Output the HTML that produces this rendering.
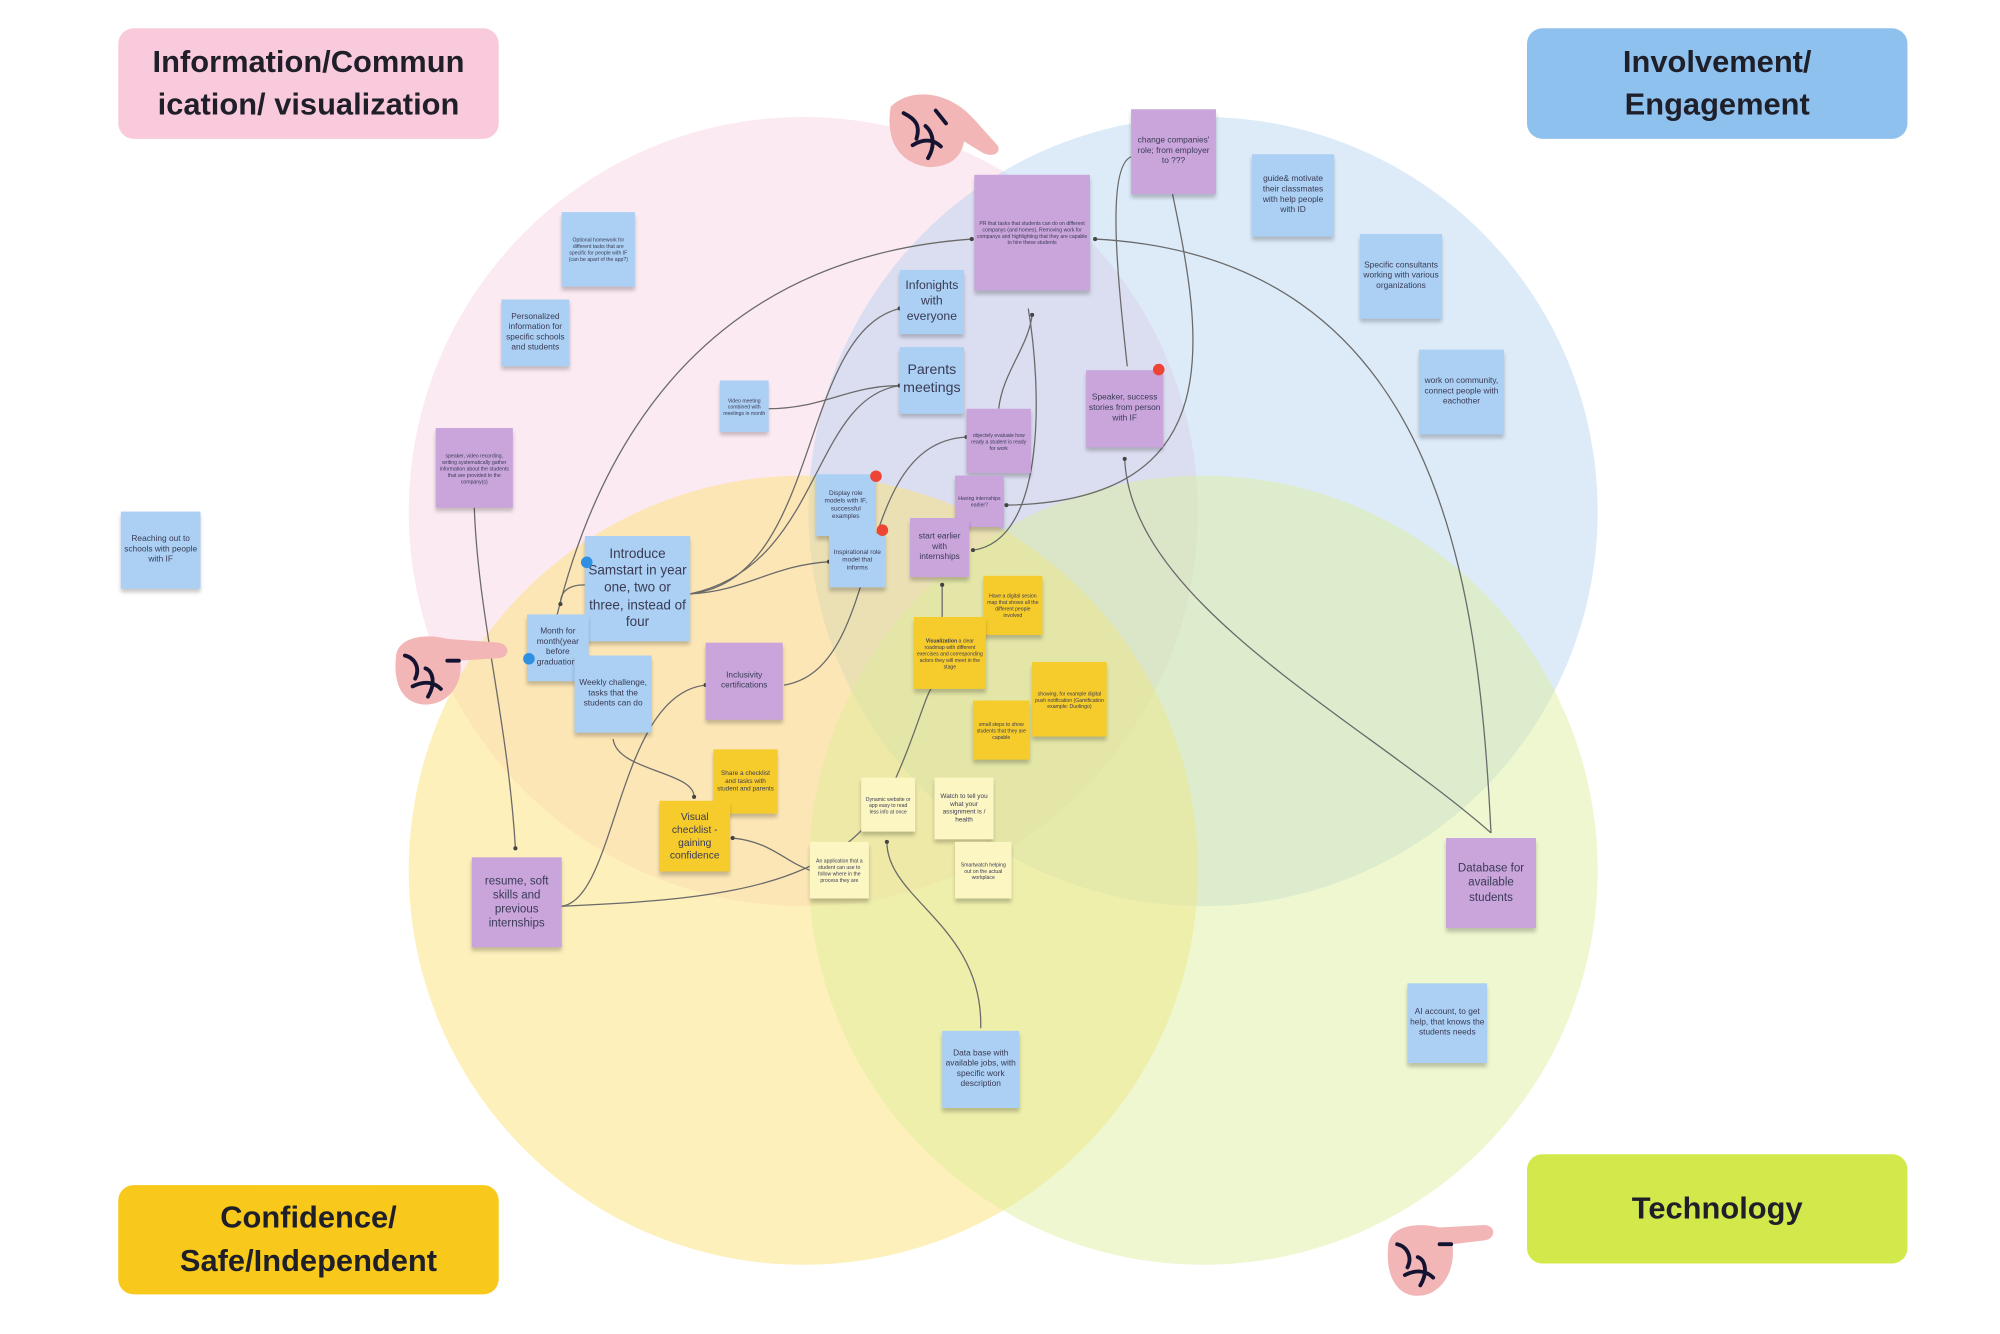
<!DOCTYPE html>
<html><head><meta charset="utf-8">
<style>
html,body{margin:0;padding:0;background:#fff;}
body{width:2000px;height:1334px;overflow:hidden;position:relative;font-family:"Liberation Sans",sans-serif;}
#s{position:absolute;left:0;top:0;width:1556px;height:1038px;transform:scale(1.28535);transform-origin:0 0;}
.n{position:absolute;display:flex;align-items:center;justify-content:center;text-align:center;color:#3a3a55;box-shadow:0 3px 3px rgba(0,0,0,0.22);box-sizing:border-box;padding:2px;line-height:1.25;overflow:hidden;}
.b{background:#abd0f3;}
.p{background:#c9a5dc;}
.y{background:#f6cc2c;}
.l{background:#fbf6c2;}
.t{font-size:4px;}
.m{font-size:6.5px;}
.g{font-size:9.5px;}
.lab{position:absolute;border-radius:12px;display:flex;align-items:center;justify-content:center;text-align:center;font-weight:bold;font-size:24px;color:#1f1f2a;line-height:1.38;}
.dot{position:absolute;width:9px;height:9px;border-radius:50%;}
</style></head><body>
<div id="s">
<svg width="1556" height="1038" style="position:absolute;left:0;top:0">
<circle cx="625" cy="398" r="307" fill="rgb(246,196,218)" fill-opacity="0.35"/>
<circle cx="936" cy="398" r="307" fill="rgb(170,205,240)" fill-opacity="0.4"/>
<circle cx="625" cy="677" r="307" fill="rgb(252,225,120)" fill-opacity="0.5"/>
<circle cx="936" cy="677" r="307" fill="rgb(220,238,150)" fill-opacity="0.45"/>
<g fill="none" stroke="#6a6a6a" stroke-width="1">
<path d="M369 395 C372 480 395 560 401 660"/>
<path d="M433 480 C470 330 560 200 756 186"/>
<path d="M437 705 C480 700 480 540 549 533"/>
<path d="M437 705 C560 700 650 690 690 620 C710 580 720 540 725 535"/>
<path d="M537 462 C580 460 600 440 645 437"/>
<path d="M537 462 C640 450 620 260 700 240"/>
<path d="M537 462 C640 440 630 310 700 300"/>
<path d="M598 318 C640 318 660 300 700 300"/>
<path d="M455 455 C440 455 436 462 436 470"/>
<path d="M477 575 C480 600 540 600 540 620"/>
<path d="M610 533 C690 520 660 345 752 340"/>
<path d="M777 318 C780 290 800 270 803 245"/>
<path d="M800 240 C810 300 815 420 757 428"/>
<path d="M733 480 L733 455"/>
<path d="M877 285 C870 220 860 130 880 122"/>
<path d="M912 150 C935 260 960 390 783 393"/>
<path d="M1160 648 C1150 450 1120 200 852 186"/>
<path d="M1160 648 C1060 560 880 470 875 357"/>
<path d="M763 800 C765 720 690 700 690 655"/>
<path d="M630 677 C610 670 600 655 570 652"/>
<path d="M424 512 C430 520 440 520 447 521"/>
</g>
<g fill="#444">
<circle cx="401" cy="660" r="1.6"/><circle cx="756" cy="186" r="1.6"/><circle cx="549" cy="533" r="1.6"/>
<circle cx="645" cy="437" r="1.6"/><circle cx="700" cy="240" r="1.6"/><circle cx="700" cy="300" r="1.6"/>
<circle cx="436" cy="470" r="1.6"/><circle cx="540" cy="620" r="1.6"/><circle cx="752" cy="340" r="1.6"/>
<circle cx="803" cy="245" r="1.6"/><circle cx="757" cy="428" r="1.6"/><circle cx="733" cy="455" r="1.6"/>
<circle cx="783" cy="393" r="1.6"/><circle cx="852" cy="186" r="1.6"/><circle cx="875" cy="357" r="1.6"/>
<circle cx="690" cy="655" r="1.6"/><circle cx="570" cy="652" r="1.6"/>
</g>
<g transform="translate(688,68)">
<path d="M5 15 C20 0 50 2 70 25 L88 45 C92 52 82 55 75 50 L62 42 C60 55 50 62 35 62 C15 60 0 45 5 15Z" fill="#f3b6b6"/>
<path d="M15 20 C25 25 28 30 25 40 M22 45 C30 40 38 40 44 46 M32 30 C38 35 40 45 34 55 M40 18 L48 28" stroke="#141432" stroke-width="3" fill="none" stroke-linecap="round"/>
</g>
<g transform="translate(303,492)">
<path d="M5 20 C5 5 25 0 45 5 L85 8 C95 10 93 20 85 20 L55 22 C58 40 45 58 25 56 C10 54 3 40 5 20Z" fill="#f3b6b6"/>
<path d="M12 18 C20 20 24 28 20 36 M18 42 C26 38 34 38 40 44 M28 28 C34 30 36 40 30 50 M45 22 L54 22" stroke="#141432" stroke-width="3" fill="none" stroke-linecap="round"/>
</g>
<g transform="translate(1075,950)">
<path d="M5 20 C5 5 25 0 45 5 L80 3 C90 4 88 14 80 15 L55 18 C58 40 45 60 25 58 C10 56 3 40 5 20Z" fill="#f3b6b6"/>
<path d="M12 18 C20 20 24 28 20 36 M18 42 C26 38 34 38 40 44 M28 28 C34 30 36 40 30 50 M45 18 L54 18" stroke="#141432" stroke-width="3" fill="none" stroke-linecap="round"/>
</g>
</svg>

<div class="lab" style="left:92px;top:22px;width:296px;height:86px;background:#f9cadb">Information/Commun<br>ication/ visualization</div>
<div class="lab" style="left:1188px;top:22px;width:296px;height:86px;background:#8fc1ef">Involvement/<br>Engagement</div>
<div class="lab" style="left:92px;top:922px;width:296px;height:85px;background:#f8c91a">Confidence/<br>Safe/Independent</div>
<div class="lab" style="left:1188px;top:898px;width:296px;height:85px;background:#d3e84b">Technology</div>

<div class="n b t" style="left:437px;top:165px;width:57px;height:58px">Optional homework for different tasks that are specific for people with IF (can be apart of the app?)</div>
<div class="n b m" style="left:390px;top:233px;width:53px;height:52px">Personalized information for specific schools and students</div>
<div class="n p t" style="left:339px;top:333px;width:60px;height:62px">speaker, video recording, writing systematically gather information about the students that are provided to the company(s)</div>
<div class="n b m" style="left:94px;top:398px;width:62px;height:60px">Reaching out to schools with people with IF</div>
<div class="n b t" style="left:560px;top:296px;width:38px;height:40px">Video meeting combined with meetings in month</div>
<div class="n b g" style="left:700px;top:210px;width:50px;height:50px">Infonights with everyone</div>
<div class="n b g" style="left:700px;top:270px;width:50px;height:52px;font-size:11px">Parents meetings</div>
<div class="n p t" style="left:758px;top:136px;width:90px;height:90px">PR that tasks that students can do on different companys (and homes), Removing work for companys and highlighting that they are capable to hire these students</div>
<div class="n p m" style="left:880px;top:85px;width:66px;height:66px">change companies' role; from employer to ???</div>
<div class="n b m" style="left:974px;top:120px;width:64px;height:64px">guide&amp; motivate their classmates with help people with ID</div>
<div class="n b m" style="left:1058px;top:182px;width:64px;height:66px">Specific consultants working with various organizations</div>
<div class="n b m" style="left:1104px;top:272px;width:66px;height:66px">work on community, connect people with eachother</div>
<div class="n p m" style="left:845px;top:288px;width:60px;height:60px">Speaker, success stories from person with IF</div>
<div class="n p t" style="left:752px;top:318px;width:50px;height:50px">objectely evaluate how ready a student is ready for work</div>
<div class="n p t" style="left:743px;top:370px;width:38px;height:40px">Having internships earlier?</div>
<div class="n p m" style="left:708px;top:403px;width:46px;height:46px">start earlier with internships</div>
<div class="n b t" style="left:635px;top:369px;width:46px;height:48px;font-size:5px">Display role models with IF, successful examples</div>
<div class="n b t" style="left:645px;top:415px;width:44px;height:42px;font-size:5px">Inspirational role model that informs</div>
<div class="n b" style="left:455px;top:417px;width:82px;height:82px;font-size:10.5px">Introduce Samstart in year one, two or three, instead of four</div>
<div class="n b m" style="left:410px;top:478px;width:48px;height:52px">Month for month(year before graduation)</div>
<div class="n b m" style="left:447px;top:510px;width:60px;height:60px">Weekly challenge, tasks that the students can do</div>
<div class="n p m" style="left:549px;top:500px;width:60px;height:60px">Inclusivity certifications</div>
<div class="n y t" style="left:555px;top:583px;width:50px;height:50px;font-size:5px">Share a checklist and tasks with student and parents</div>
<div class="n y" style="left:513px;top:623px;width:55px;height:55px;font-size:8px">Visual checklist - gaining confidence</div>
<div class="n y t" style="left:765px;top:448px;width:46px;height:46px">Have a digital sesion map that shows all the different people involved</div>
<div class="n y t" style="left:711px;top:480px;width:56px;height:56px"><span><b>Visualization</b> a clear roadmap with different exercises and corresponding actors they will meet in the stage</span></div>
<div class="n y t" style="left:803px;top:515px;width:58px;height:58px">showing, for example digital push notification (Gamification example: Duolingo)</div>
<div class="n y t" style="left:757px;top:545px;width:44px;height:46px">small steps to show students that they are capable</div>
<div class="n l t" style="left:670px;top:605px;width:42px;height:42px">Dynamic website or app easy to read less info at once</div>
<div class="n l t" style="left:727px;top:605px;width:46px;height:48px;font-size:5px">Watch to tell you what your assignment is / health</div>
<div class="n l t" style="left:630px;top:655px;width:46px;height:44px">An application that a student can use to follow where in the process they are</div>
<div class="n l t" style="left:743px;top:655px;width:44px;height:44px">Smartwatch helping out on the actual workplace</div>
<div class="n p" style="left:367px;top:667px;width:70px;height:70px;font-size:9px">resume, soft skills and previous internships</div>
<div class="n p" style="left:1125px;top:652px;width:70px;height:70px;font-size:9px">Database for available students</div>
<div class="n b m" style="left:733px;top:802px;width:60px;height:60px">Data base with available jobs, with specific work description</div>
<div class="n b m" style="left:1095px;top:765px;width:62px;height:62px">AI account, to get help, that knows the students needs</div>

<div class="dot" style="left:897px;top:283px;background:#ee4433"></div>
<div class="dot" style="left:677px;top:366px;background:#ee4433"></div>
<div class="dot" style="left:682px;top:408px;background:#ee4433"></div>
<div class="dot" style="left:452px;top:433px;background:#2f8fe0"></div>
<div class="dot" style="left:407px;top:508px;background:#2f8fe0"></div>
</div>
</body></html>
